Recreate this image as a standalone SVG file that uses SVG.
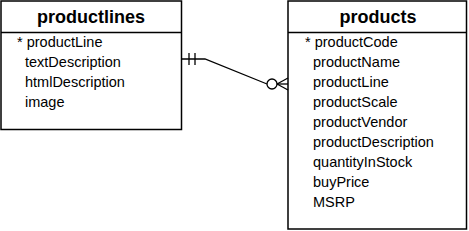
<svg xmlns="http://www.w3.org/2000/svg" width="469" height="231" viewBox="0 0 469 231">
<style>
.box{fill:#fff;stroke:#000;stroke-width:1.5}
.div{stroke:#000;stroke-width:1.5}
.title{font-family:"Liberation Sans",Arial,sans-serif;font-size:18px;font-weight:bold;text-anchor:middle;fill:#000}
.f{font-family:"Liberation Sans",Arial,sans-serif;font-size:14.5px;fill:#000}
.c{fill:none;stroke:#000;stroke-width:1.3}
</style>
<rect width="469" height="231" fill="#fff"/>
<g id="productlines">
<rect class="box" x="1" y="1" width="180.5" height="128.5"/>
<line class="div" x1="1" y1="32.5" x2="181.5" y2="32.5"/>
<text class="title" x="91" y="23">productlines</text>
<text class="f" x="17" y="47">* productLine</text>
<text class="f" x="25" y="67">textDescription</text>
<text class="f" x="25" y="87">htmlDescription</text>
<text class="f" x="25" y="107">image</text>
</g>
<g id="products">
<rect class="box" x="288" y="1" width="178.5" height="228"/>
<line class="div" x1="288" y1="32.5" x2="466.5" y2="32.5"/>
<text class="title" x="378" y="23">products</text>
<text class="f" x="305" y="47">* productCode</text>
<text class="f" x="313" y="67">productName</text>
<text class="f" x="313" y="87">productLine</text>
<text class="f" x="313" y="107">productScale</text>
<text class="f" x="313" y="127">productVendor</text>
<text class="f" x="313" y="147">productDescription</text>
<text class="f" x="313" y="167">quantityInStock</text>
<text class="f" x="313" y="187">buyPrice</text>
<text class="f" x="313" y="207">MSRP</text>
</g>
<g id="connectors">
<polyline class="c" points="181.5,59 205,59 267,84"/>
<line class="c" x1="189" y1="53" x2="189" y2="65"/>
<line class="c" x1="195" y1="53" x2="195" y2="65"/>
<circle class="c" cx="272" cy="84" r="5"/>
<line class="c" x1="277" y1="84" x2="288" y2="84"/>
<line class="c" x1="277" y1="84" x2="288" y2="78"/>
<line class="c" x1="277" y1="84" x2="288" y2="90"/>
</g>
</svg>
